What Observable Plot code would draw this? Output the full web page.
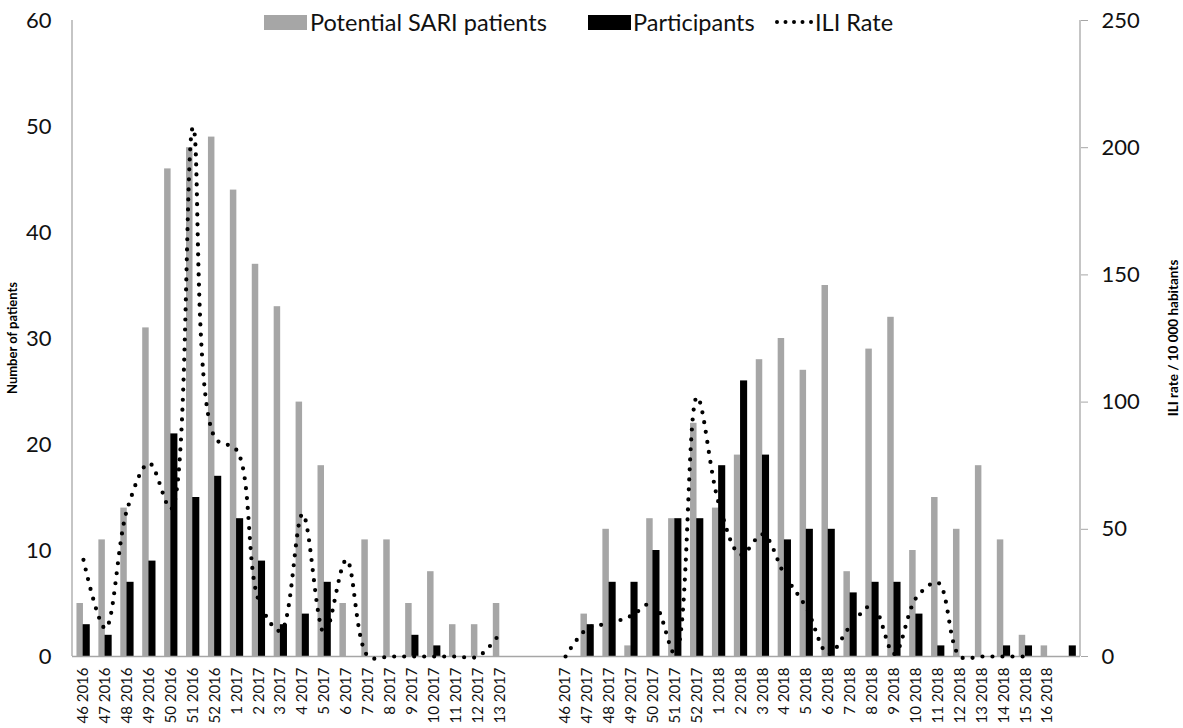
<!DOCTYPE html>
<html><head><meta charset="utf-8">
<script src="https://cdn.jsdelivr.net/npm/d3@7"></script>
<script src="https://cdn.jsdelivr.net/npm/@observablehq/plot@0.6"></script>
<style>
body{margin:0;background:#fff;}
#wrap{position:relative;width:1183px;height:728px;font-family:Lato,"Open Sans",sans-serif;color:#111;}
#legend{position:absolute;left:0;top:0;width:1183px;height:40px;font-size:23.5px;}
.sw{position:absolute;}
.lt{position:absolute;top:8px;line-height:28px;white-space:nowrap;}
</style></head><body>
<div id="wrap"><div id="chart"></div><div id="legend"></div></div>
<script>
const weeks = ["46 2016","47 2016","48 2016","49 2016","50 2016","51 2016","52 2016","1 2017","2 2017","3 2017","4 2017","5 2017","6 2017","7 2017","8 2017","9 2017","10 2017","11 2017","12 2017","13 2017","","","46 2017","47 2017","48 2017","49 2017","50 2017","51 2017","52 2017","1 2018","2 2018","3 2018","4 2018","5 2018","6 2018","7 2018","8 2018","9 2018","10 2018","11 2018","12 2018","13 2018","14 2018","15 2018","16 2018",""];
const sari = [5,11,14,31,46,48,49,44,37,33,24,18,5,11,11,5,8,3,3,5,null,null,0,4,12,1,13,13,22,14,19,28,30,27,35,8,29,32,10,15,12,18,11,2,1,0];
const participants = [3,2,7,9,21,15,17,13,9,3,4,7,0,0,0,2,1,0,0,0,null,null,0,3,7,7,10,13,13,18,26,19,11,12,12,6,7,7,4,1,0,0,1,1,0,1];
const iliRate = [38,11,58,76,58,208,86,81,22,10,56,9,38,0,0,0,0,0,0,9,null,null,0,11,13,16,21,1,102,60,40,48,32,19,1,12,20,1,23,29,0,0,0,0,null,null];
const leftTicks = [0,10,20,30,40,50,60];
const rightTicks = [0,50,100,150,200,250];
const seriesNames = ["Potential SARI patients","Participants","ILI Rate"];
const axisTitles = ["Number of patients","ILI rate / 10 000 habitants"];
const colors = ["#a6a6a6","#000000","#000000"];
const yMax = 60, y2Max = 250;

const rows = weeks.map((w,i)=>({i, week:w, sari:sari[i], part:participants[i],
  ili: iliRate[i]==null ? NaN : iliRate[i]*yMax/y2Max}));

const chart = Plot.plot({
  width:1183, height:728, marginLeft:72, marginRight:103, marginTop:20, marginBottom:72,
  style:{fontFamily:"Lato, 'Open Sans', sans-serif", background:"#fff", color:"#111", overflow:"visible"},
  x:{type:"band", domain:d3.range(weeks.length), padding:0},
  y:{domain:[0,yMax]},
  marks:[
    Plot.barY(rows.filter(d=>d.sari>0),{x:"i", y:"sari", fill:colors[0], insetLeft:4.46, insetRight:10.96}),
    Plot.barY(rows.filter(d=>d.part>0),{x:"i", y:"part", fill:colors[1], insetLeft:10.66, insetRight:4.16}),
    Plot.ruleY([0],{stroke:"#a6a6a6", strokeWidth:1.3}),
    Plot.line(rows,{x:"i", y:"ili", curve:"catmull-rom", stroke:colors[2], strokeWidth:4.2, strokeDasharray:"0 10", strokeLinecap:"round"}),
    Plot.axisY(leftTicks,{anchor:"left", tickSize:0, tickPadding:21, fontSize:22, label:null}),
    Plot.axisY(rightTicks.map(v=>v*yMax/y2Max),{anchor:"right", tickSize:7, tickPadding:14, stroke:"#a6a6a6", fontSize:22, tickFormat:d=>Math.round(d*y2Max/yMax), label:null}),
    Plot.axisX({anchor:"bottom", tickSize:0, tickPadding:11, tickRotate:-90, fontSize:15, tickFormat:i=>weeks[i], label:null})
  ]
});
document.getElementById("chart").appendChild(chart);

// axis lines (left and right) from the chart's own scales
const svg = d3.select(chart);
const xr = chart.scale("x").range, yr = chart.scale("y").range;
[xr[0], xr[1]].forEach(x=>{
  svg.append("line").attr("x1",x).attr("x2",x).attr("y1",yr[0]).attr("y2",yr[1])
    .attr("stroke","#a6a6a6").attr("stroke-width",1.3);
});
const titleY = (yr[0]+yr[1])/2;
svg.append("text").attr("transform",`translate(14,${titleY}) rotate(-90)`)
  .attr("text-anchor","middle").attr("dominant-baseline","middle")
  .attr("font-weight","bold").attr("font-size",13).attr("fill","#000").text(axisTitles[0]);
svg.append("text").attr("transform",`translate(1175,${titleY}) rotate(-90)`)
  .attr("text-anchor","middle").attr("dominant-baseline","middle")
  .attr("font-weight","bold").attr("font-size",13.5).attr("fill","#000").text(axisTitles[1]);

// legend
const lg = document.getElementById("legend");
lg.innerHTML = `
<div class="sw" style="left:264px;top:15px;width:43px;height:15px;background:${colors[0]}"></div>
<div class="lt" style="left:310px">${seriesNames[0]}</div>
<div class="sw" style="left:588px;top:15px;width:43px;height:15px;background:${colors[1]}"></div>
<div class="lt" style="left:633px">${seriesNames[1]}</div>
<svg class="sw" style="left:774px;top:14px" width="42" height="16"><line x1="3" x2="40" y1="8" y2="8" stroke="#000" stroke-width="4" stroke-linecap="round" stroke-dasharray="0 8.5"/></svg>
<div class="lt" style="left:815px">${seriesNames[2]}</div>`;
</script>
</body></html>
